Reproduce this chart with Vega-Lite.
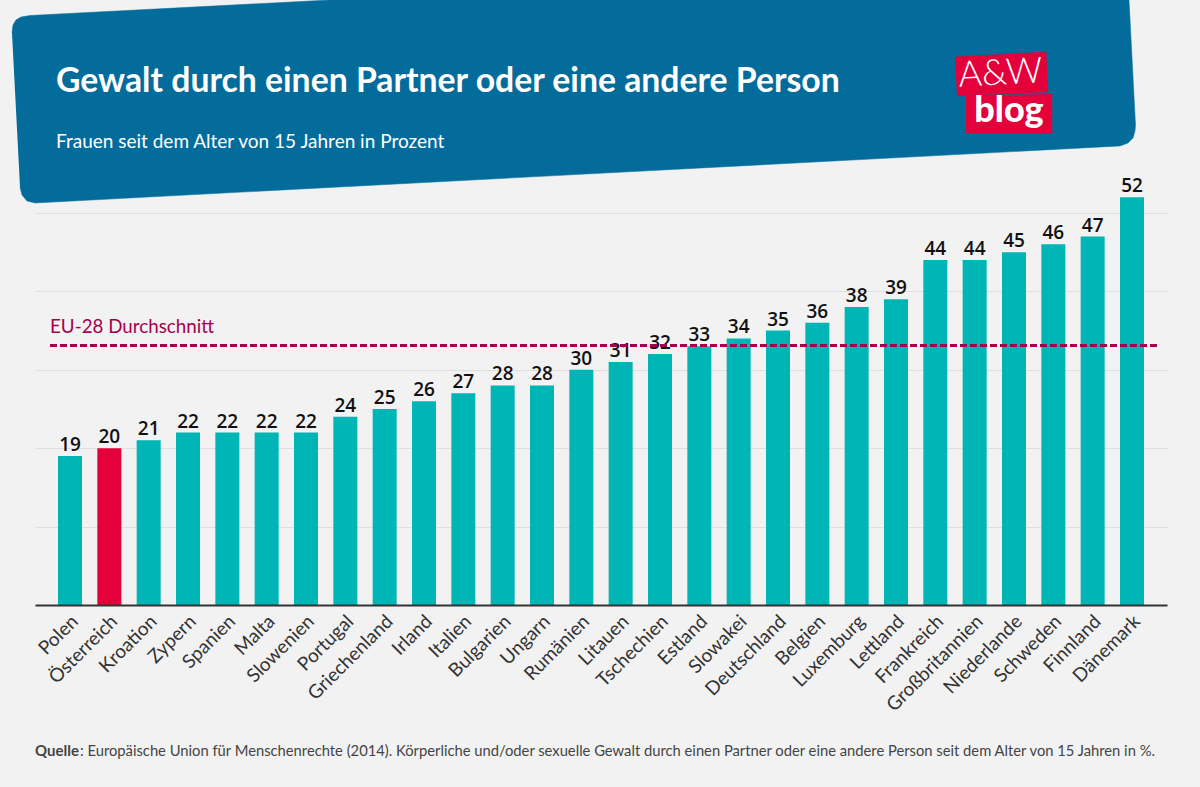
{
  "$schema": "https://vega.github.io/schema/vega-lite/v6.json",
  "width": 1132,
  "height": 392,
  "autosize": {"type": "none"},
  "padding": {"left": 35, "top": 213, "right": 33, "bottom": 182},
  "background": "#f2f2f2",
  "title": {
    "text": "Gewalt durch einen Partner oder eine andere Person",
    "subtitle": "Frauen seit dem Alter von 15 Jahren in Prozent",
    "anchor": "start",
    "frame": "group",
    "zindex": 1,
    "dx": 21,
    "offset": -153,
    "font": "Lato",
    "fontWeight": "bold",
    "fontSize": 33.75,
    "color": "#ffffff",
    "subtitleFont": "Lato",
    "subtitleFontSize": 19,
    "subtitleColor": "#ffffff",
    "subtitlePadding": 34
  },
  "config": {
    "view": {"stroke": null},
    "axisY": {
      "tickCount": 5,
      "labels": false,
      "ticks": false,
      "domain": false,
      "grid": true,
      "gridColor": "#dfdfdf",
      "gridWidth": 1.2
    }
  },
  "datasets": {
    "laender": [
      {"Land": "Polen", "Anteil": 19},
      {"Land": "Österreich", "Anteil": 20},
      {"Land": "Kroation", "Anteil": 21},
      {"Land": "Zypern", "Anteil": 22},
      {"Land": "Spanien", "Anteil": 22},
      {"Land": "Malta", "Anteil": 22},
      {"Land": "Slowenien", "Anteil": 22},
      {"Land": "Portugal", "Anteil": 24},
      {"Land": "Griechenland", "Anteil": 25},
      {"Land": "Irland", "Anteil": 26},
      {"Land": "Italien", "Anteil": 27},
      {"Land": "Bulgarien", "Anteil": 28},
      {"Land": "Ungarn", "Anteil": 28},
      {"Land": "Rumänien", "Anteil": 30},
      {"Land": "Litauen", "Anteil": 31},
      {"Land": "Tschechien", "Anteil": 32},
      {"Land": "Estland", "Anteil": 33},
      {"Land": "Slowakei", "Anteil": 34},
      {"Land": "Deutschland", "Anteil": 35},
      {"Land": "Belgien", "Anteil": 36},
      {"Land": "Luxemburg", "Anteil": 38},
      {"Land": "Lettland", "Anteil": 39},
      {"Land": "Frankreich", "Anteil": 44},
      {"Land": "Großbritannien", "Anteil": 44},
      {"Land": "Niederlande", "Anteil": 45},
      {"Land": "Schweden", "Anteil": 46},
      {"Land": "Finnland", "Anteil": 47},
      {"Land": "Dänemark", "Anteil": 52}
    ],
    "kopf": [
      {"i": 1, "a": 12, "b": 72.96},
      {"i": 2, "a": 13, "b": 73.98},
      {"i": 3, "a": 16, "b": 74.62},
      {"i": 4, "a": 21, "b": 75},
      {"i": 5, "a": 30, "b": 75.19},
      {"i": 6, "a": 330, "b": 77.17},
      {"i": 7, "a": 1129, "b": 77.17},
      {"i": 8, "a": 1135.5, "b": 61.22},
      {"i": 9, "a": 1135, "b": 60.46},
      {"i": 10, "a": 1133, "b": 59.57},
      {"i": 11, "a": 1128, "b": 58.93},
      {"i": 12, "a": 1120, "b": 58.55},
      {"i": 13, "a": 35, "b": 51.28},
      {"i": 14, "a": 27, "b": 51.53},
      {"i": 15, "a": 22, "b": 52.3},
      {"i": 16, "a": 20, "b": 53.32}
    ],
    "logo": [
      {"teil": "oben", "i": 1, "a": 955, "b": 69.9},
      {"teil": "oben", "i": 2, "a": 1046, "b": 70.54},
      {"teil": "oben", "i": 3, "a": 1048, "b": 65.43},
      {"teil": "oben", "i": 4, "a": 957, "b": 64.92},
      {"teil": "unten", "i": 1, "a": 966, "b": 64.92},
      {"teil": "unten", "i": 2, "a": 1052, "b": 65.17},
      {"teil": "unten", "i": 3, "a": 1052, "b": 60.2},
      {"teil": "unten", "i": 4, "a": 966, "b": 60.2}
    ]
  },
  "layer": [
    {
      "data": {"name": "laender"},
      "encoding": {
        "x": {
          "field": "Land",
          "type": "nominal",
          "sort": null,
          "scale": {"paddingInner": 0.39, "paddingOuter": 0.585},
          "axis": {
            "title": null,
            "labelAngle": -45,
            "labelAlign": "right",
            "labelBaseline": "middle",
            "labelFont": "Lato",
            "labelFontSize": 19,
            "labelColor": "#333333",
            "labelPadding": 13,
            "labelOffset": 5,
            "ticks": false,
            "domainColor": "#333333",
            "domainWidth": 2,
            "zindex": 1
          }
        },
        "y": {
          "field": "Anteil",
          "type": "quantitative",
          "scale": {"domain": [0, 50], "nice": false},
          "axis": {"title": null}
        }
      },
      "layer": [
        {
          "mark": {"type": "bar"},
          "encoding": {
            "color": {
              "condition": {"test": "datum.Land === 'Österreich'", "value": "#e4003a"},
              "value": "#00b5b5"
            }
          }
        },
        {
          "mark": {
            "type": "text",
            "baseline": "alphabetic",
            "dy": -5,
            "font": "Open Sans",
            "fontWeight": 600,
            "fontSize": 19,
            "color": "#111111"
          },
          "encoding": {"text": {"field": "Anteil", "type": "quantitative"}}
        }
      ]
    },
    {
      "layer": [
        {
          "data": {"name": "kopf"},
          "mark": {"type": "line", "fill": "#046c9b", "stroke": "#046c9b", "strokeWidth": 0.5},
          "encoding": {
            "x": {"field": "a", "type": "quantitative", "axis": null, "scale": {"domain": [35, 1167], "nice": false, "zero": false}},
            "y": {"field": "b", "type": "quantitative", "axis": {"title": null}, "scale": {"domain": [0, 50], "nice": false}},
            "order": {"field": "i", "type": "quantitative"}
          }
        },
        {
          "data": {"name": "logo"},
          "mark": {"type": "line", "fill": "#e4003a", "stroke": "#e4003a", "strokeWidth": 0.5},
          "encoding": {
            "x": {"field": "a", "type": "quantitative", "axis": null, "scale": {"domain": [35, 1167], "nice": false, "zero": false}},
            "y": {"field": "b", "type": "quantitative", "axis": {"title": null}, "scale": {"domain": [0, 50], "nice": false}},
            "detail": {"field": "teil"},
            "order": {"field": "i", "type": "quantitative"}
          }
        },
        {
          "data": {"values": [{"text": "A&W"}]},
          "mark": {"type": "text", "font": "Lato", "fontWeight": 300, "fontSize": 36, "angle": 357, "color": "#ffffff", "align": "center", "baseline": "alphabetic"},
          "encoding": {
            "x": {"datum": 1001, "type": "quantitative", "axis": null, "scale": {"domain": [35, 1167], "nice": false, "zero": false}},
            "y": {"datum": 66.4, "type": "quantitative", "axis": {"title": null}, "scale": {"domain": [0, 50], "nice": false}},
            "text": {"field": "text"}
          }
        },
        {
          "data": {"values": [{"text": "blog"}]},
          "mark": {"type": "text", "font": "Lato", "fontWeight": 900, "fontSize": 36, "color": "#ffffff", "align": "center", "baseline": "alphabetic"},
          "encoding": {
            "x": {"datum": 1009, "type": "quantitative", "axis": null, "scale": {"domain": [35, 1167], "nice": false, "zero": false}},
            "y": {"datum": 61.6, "type": "quantitative", "axis": {"title": null}, "scale": {"domain": [0, 50], "nice": false}},
            "text": {"field": "text"}
          }
        },
        {
          "data": {"values": [{"Wert": 33.1}]},
          "mark": {"type": "rule", "color": "#a5004b", "strokeWidth": 3, "strokeDash": [7, 3]},
          "encoding": {
            "x": {"datum": 50, "type": "quantitative", "axis": null, "scale": {"domain": [35, 1167], "nice": false, "zero": false}},
            "x2": {"datum": 1159},
            "y": {"field": "Wert", "type": "quantitative", "axis": {"title": null}, "scale": {"domain": [0, 50], "nice": false}}
          }
        },
        {
          "data": {"values": [{"text": "EU-28 Durchschnitt"}]},
          "mark": {"type": "text", "font": "Lato", "fontSize": 18.8, "color": "#a5004b", "align": "left", "baseline": "alphabetic"},
          "encoding": {
            "x": {"datum": 50, "type": "quantitative", "axis": null, "scale": {"domain": [35, 1167], "nice": false, "zero": false}},
            "y": {"datum": 34.7, "type": "quantitative", "axis": {"title": null}, "scale": {"domain": [0, 50], "nice": false}},
            "text": {"field": "text"}
          }
        },
        {
          "data": {"values": [{"text": "Quelle"}]},
          "mark": {"type": "text", "font": "Lato", "fontWeight": "bold", "fontSize": 15, "color": "#444444", "align": "left", "baseline": "alphabetic"},
          "encoding": {
            "x": {"datum": 35, "type": "quantitative", "axis": null, "scale": {"domain": [35, 1167], "nice": false, "zero": false}},
            "y": {"datum": -19.3, "type": "quantitative", "axis": {"title": null}, "scale": {"domain": [0, 50], "nice": false}},
            "text": {"field": "text"}
          }
        },
        {
          "data": {"values": [{"text": ": Europäische Union für Menschenrechte (2014). Körperliche und/oder sexuelle Gewalt durch einen Partner oder eine andere Person seit dem Alter von 15 Jahren in %."}]},
          "mark": {"type": "text", "font": "Lato", "fontSize": 14.75, "color": "#444444", "align": "left", "baseline": "alphabetic"},
          "encoding": {
            "x": {"datum": 80, "type": "quantitative", "axis": null, "scale": {"domain": [35, 1167], "nice": false, "zero": false}},
            "y": {"datum": -19.3, "type": "quantitative", "axis": {"title": null}, "scale": {"domain": [0, 50], "nice": false}},
            "text": {"field": "text"}
          }
        }
      ]
    }
  ],
  "resolve": {"scale": {"x": "independent"}}
}
